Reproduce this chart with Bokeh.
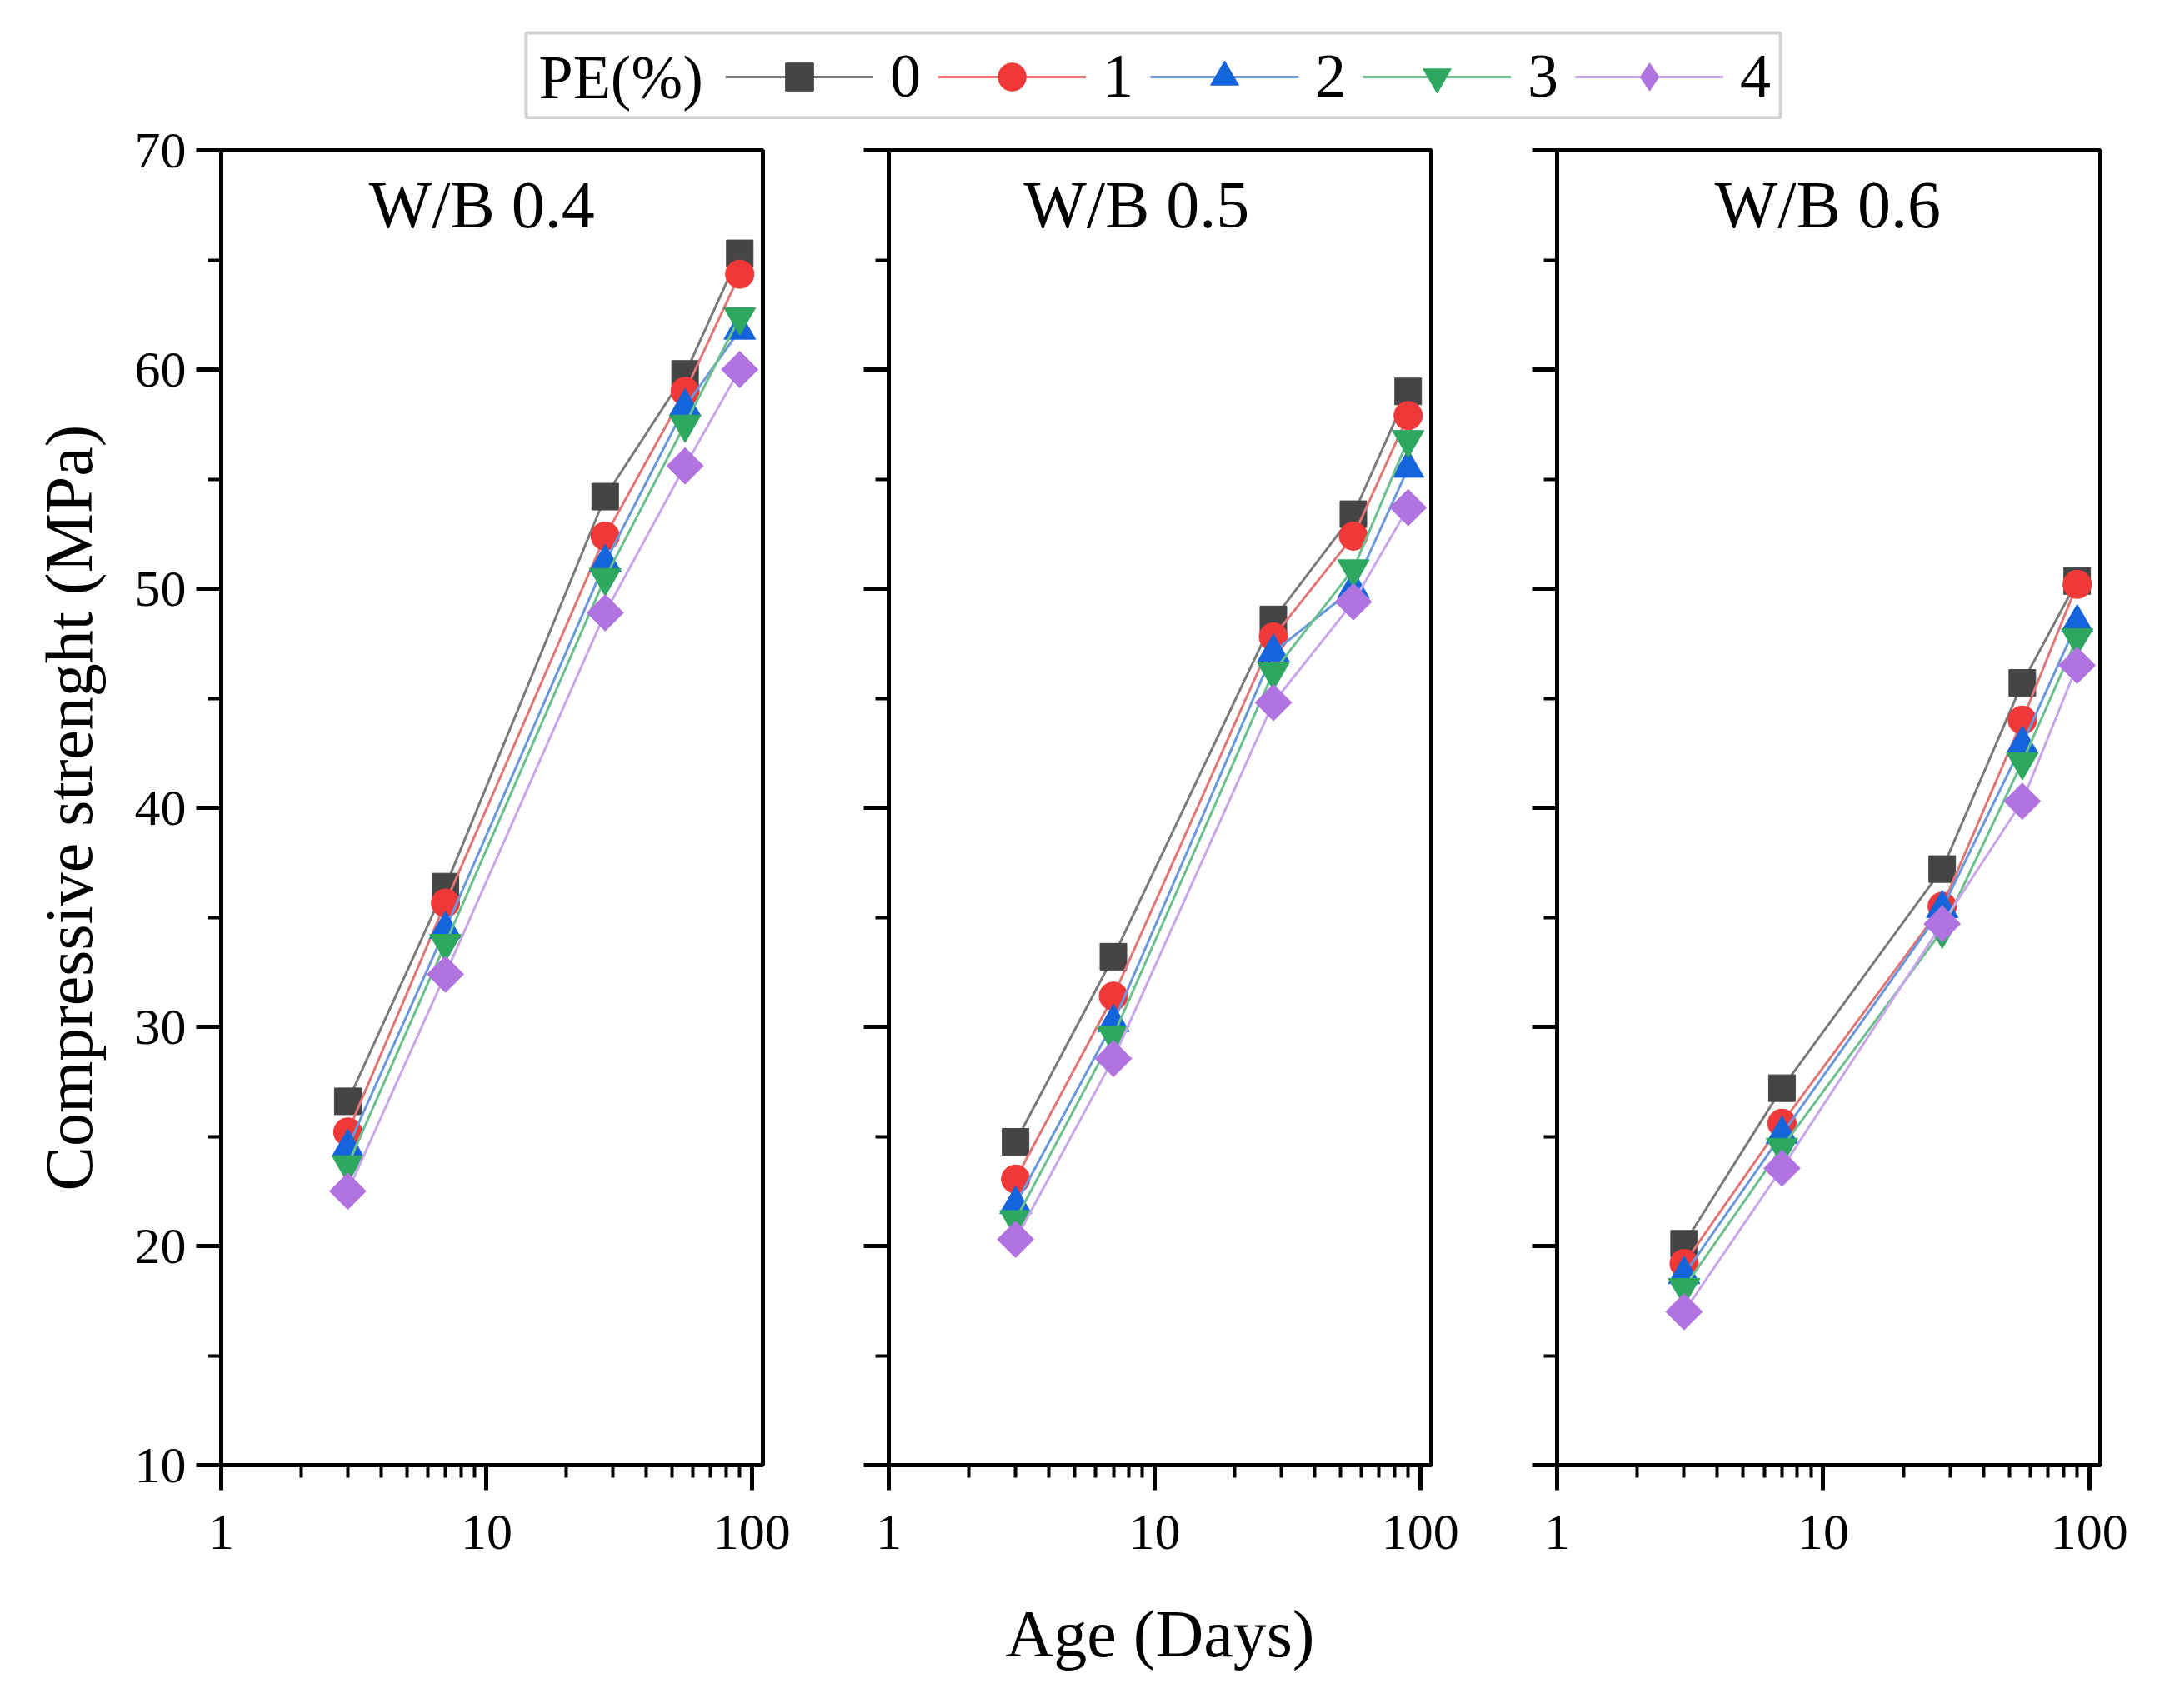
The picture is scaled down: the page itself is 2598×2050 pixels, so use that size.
from math import pi
from bokeh.plotting import figure
from bokeh.models import (Range1d, FixedTicker, Label, Legend, LegendItem,
                          BasicTickFormatter, BoxAnnotation)
from bokeh.layouts import column, row
from bokeh.embed import file_html
from bokeh.resources import INLINE

FONT = "Liberation Serif"

# ---------------- data ----------------
ages = [3, 7, 28, 56, 90]
pe_levels = ["0", "1", "2", "3", "4"]
panel_titles = ["W/B 0.4", "W/B 0.5", "W/B 0.6"]

wb04_pe0 = [26.6, 36.4, 54.2, 59.8, 65.3]
wb04_pe1 = [25.2, 35.65, 52.4, 59.0, 64.35]
wb04_pe2 = [24.5, 34.45, 51.2, 58.3, 61.8]
wb04_pe3 = [23.7, 33.8, 50.5, 57.5, 62.4]
wb04_pe4 = [22.5, 32.4, 48.9, 55.6, 60.0]

wb05_pe0 = [24.75, 33.2, 48.6, 53.4, 59.0]
wb05_pe1 = [23.05, 31.4, 47.8, 52.4, 57.9]
wb05_pe2 = [21.9, 30.2, 47.1, 50.0, 55.5]
wb05_pe3 = [21.2, 29.6, 46.2, 50.9, 56.8]
wb05_pe4 = [20.3, 28.55, 44.8, 49.4, 53.7]

wb06_pe0 = [20.1, 27.2, 37.2, 45.7, 50.35]
wb06_pe1 = [19.2, 25.6, 35.5, 44.0, 50.2]
wb06_pe2 = [18.7, 25.1, 35.4, 42.9, 48.45]
wb06_pe3 = [18.1, 24.5, 34.4, 42.1, 47.75]
wb06_pe4 = [17.0, 23.55, 34.7, 40.3, 46.5]

x_major = [1, 10, 100]
x_minor = [2, 3, 4, 5, 6, 7, 8, 9, 20, 30, 40, 50, 60, 70, 80, 90]
y_major = [10, 20, 30, 40, 50, 60, 70]
y_minor = [15, 25, 35, 45, 55, 65]

panels_data = [
    [wb04_pe0, wb04_pe1, wb04_pe2, wb04_pe3, wb04_pe4],
    [wb05_pe0, wb05_pe1, wb05_pe2, wb05_pe3, wb05_pe4],
    [wb06_pe0, wb06_pe1, wb06_pe2, wb06_pe3, wb06_pe4],
]

# ---------------- styles ----------------
markers = ["square", "circle", "triangle", "inverted_triangle", "square"]
legend_markers = ["square", "circle", "triangle", "inverted_triangle", "diamond"]
angles = [0, 0, 0, 0, pi / 4]
sizes = [32, 34, 38, 38, 31]
fill_colors = ["#454545", "#F03838", "#1464DC", "#2EA760", "#B173E0"]
line_colors = ["#7A7A7A", "#E27575", "#6A98DC", "#6CC08E", "#C9A6EC"]

FRAME_H = 1578
TOP_B = 37
BOT_B = 270
LEG_H = 143


def style_axes(p, show_y_labels, ylabel, xlabel):
    for ax in (p.xaxis[0], p.yaxis[0]):
        ax.axis_line_width = 5
        ax.axis_line_color = "black"
        ax.major_tick_line_width = 5
        ax.minor_tick_line_width = 4
        ax.major_tick_line_color = "black"
        ax.minor_tick_line_color = "black"
        ax.major_tick_in = 0
        ax.minor_tick_in = 0
        ax.major_tick_out = 30
        ax.major_label_text_font = FONT
        ax.major_label_text_font_size = "62px"
        ax.major_label_text_color = "black"
        ax.axis_label_text_font = FONT
        ax.axis_label_text_font_size = "80px"
        ax.axis_label_text_font_style = "normal"
        ax.axis_label_text_color = "black"
    xa = p.xaxis[0]
    xa.ticker = FixedTicker(ticks=x_major, minor_ticks=x_minor)
    xa.formatter = BasicTickFormatter()
    xa.minor_tick_out = 15
    xa.major_label_standoff = 30
    if xlabel:
        xa.axis_label = xlabel
        xa.axis_label_standoff = 55
    ya = p.yaxis[0]
    ya.ticker = FixedTicker(ticks=y_major, minor_ticks=y_minor)
    ya.minor_tick_out = 16
    ya.major_label_standoff = 12
    if not show_y_labels:
        ya.major_label_overrides = {v: "" for v in y_major}
    if ylabel:
        ya.axis_label = ylabel
        ya.axis_label_standoff = 32


def make_panel(idx, series, border_left, frame_w, border_right, title_x):
    p = figure(x_axis_type="log", x_range=Range1d(1, 110), y_range=Range1d(10, 70),
               frame_width=frame_w, frame_height=FRAME_H,
               min_border_left=border_left, min_border_right=border_right,
               min_border_top=TOP_B, min_border_bottom=BOT_B,
               toolbar_location=None, output_backend="svg")
    p.xgrid.visible = False
    p.ygrid.visible = False
    p.outline_line_color = "black"
    p.outline_line_width = 5
    p.background_fill_color = "white"
    p.border_fill_color = "white"
    style_axes(p, idx == 0,
               "Compressive strenght (MPa)" if idx == 0 else None,
               "Age (Days)" if idx == 1 else None)
    for k, vals in enumerate(series):
        p.line(ages, vals, line_color=line_colors[k], line_width=3)
        p.scatter(ages, vals, marker=markers[k], size=sizes[k], angle=angles[k],
                  fill_color=fill_colors[k], line_color=fill_colors[k], line_width=1)
    p.add_layout(Label(x=title_x, y=67.5, text=panel_titles[idx], text_font=FONT,
                       text_font_size="80px", text_align="center",
                       text_baseline="alphabetic", text_color="black"))
    return p


p1 = make_panel(0, panels_data[0], 265, 650, 50, 9.6)
p2 = make_panel(1, panels_data[1], 101, 651, 50, 8.55)
p3 = make_panel(2, panels_data[2], 101, 652, 60, 10.4)

# ---------------- legend strip ----------------
TOTAL_W = 265 + 650 + 50 + 101 + 651 + 50 + 101 + 652 + 60
lf = figure(width=TOTAL_W, height=LEG_H, x_range=Range1d(0, TOTAL_W),
            y_range=Range1d(1000, 1000 + LEG_H), x_axis_location=None,
            y_axis_location=None, min_border=0, toolbar_location=None,
            output_backend="svg")
lf.grid.visible = False
lf.outline_line_color = None
lf.background_fill_color = "white"
lf.border_fill_color = "white"

items = []
for k, lvl in enumerate(pe_levels):
    lr = lf.line(ages, panels_data[0][k], line_color=line_colors[k], line_width=3)
    sr = lf.scatter(ages, panels_data[0][k], marker=legend_markers[k], size=sizes[k],
                    fill_color=fill_colors[k], line_color=fill_colors[k], line_width=1)
    items.append(LegendItem(label=lvl, renderers=[lr, sr]))

legend = Legend(items=items, orientation="horizontal", location=(870, 9),
                label_text_font=FONT, label_text_font_size="74px",
                label_text_color="black",
                glyph_width=178, glyph_height=84, label_standoff=20, spacing=20,
                padding=0, margin=0, border_line_color=None,
                background_fill_alpha=0)
lf.add_layout(legend, "center")

lf.add_layout(BoxAnnotation(left=631, right=2136, bottom=1002, top=1104,
                            fill_alpha=0, line_color="#6E6E6E", line_width=4))
lf.add_layout(Label(x=646, y=1051, text="PE(%)", text_font=FONT,
                    text_font_size="74px", text_align="left",
                    text_baseline="middle", text_color="black"))

layout = column(lf, row(p1, p2, p3))
open("out.html", "w").write(file_html(layout, INLINE))
